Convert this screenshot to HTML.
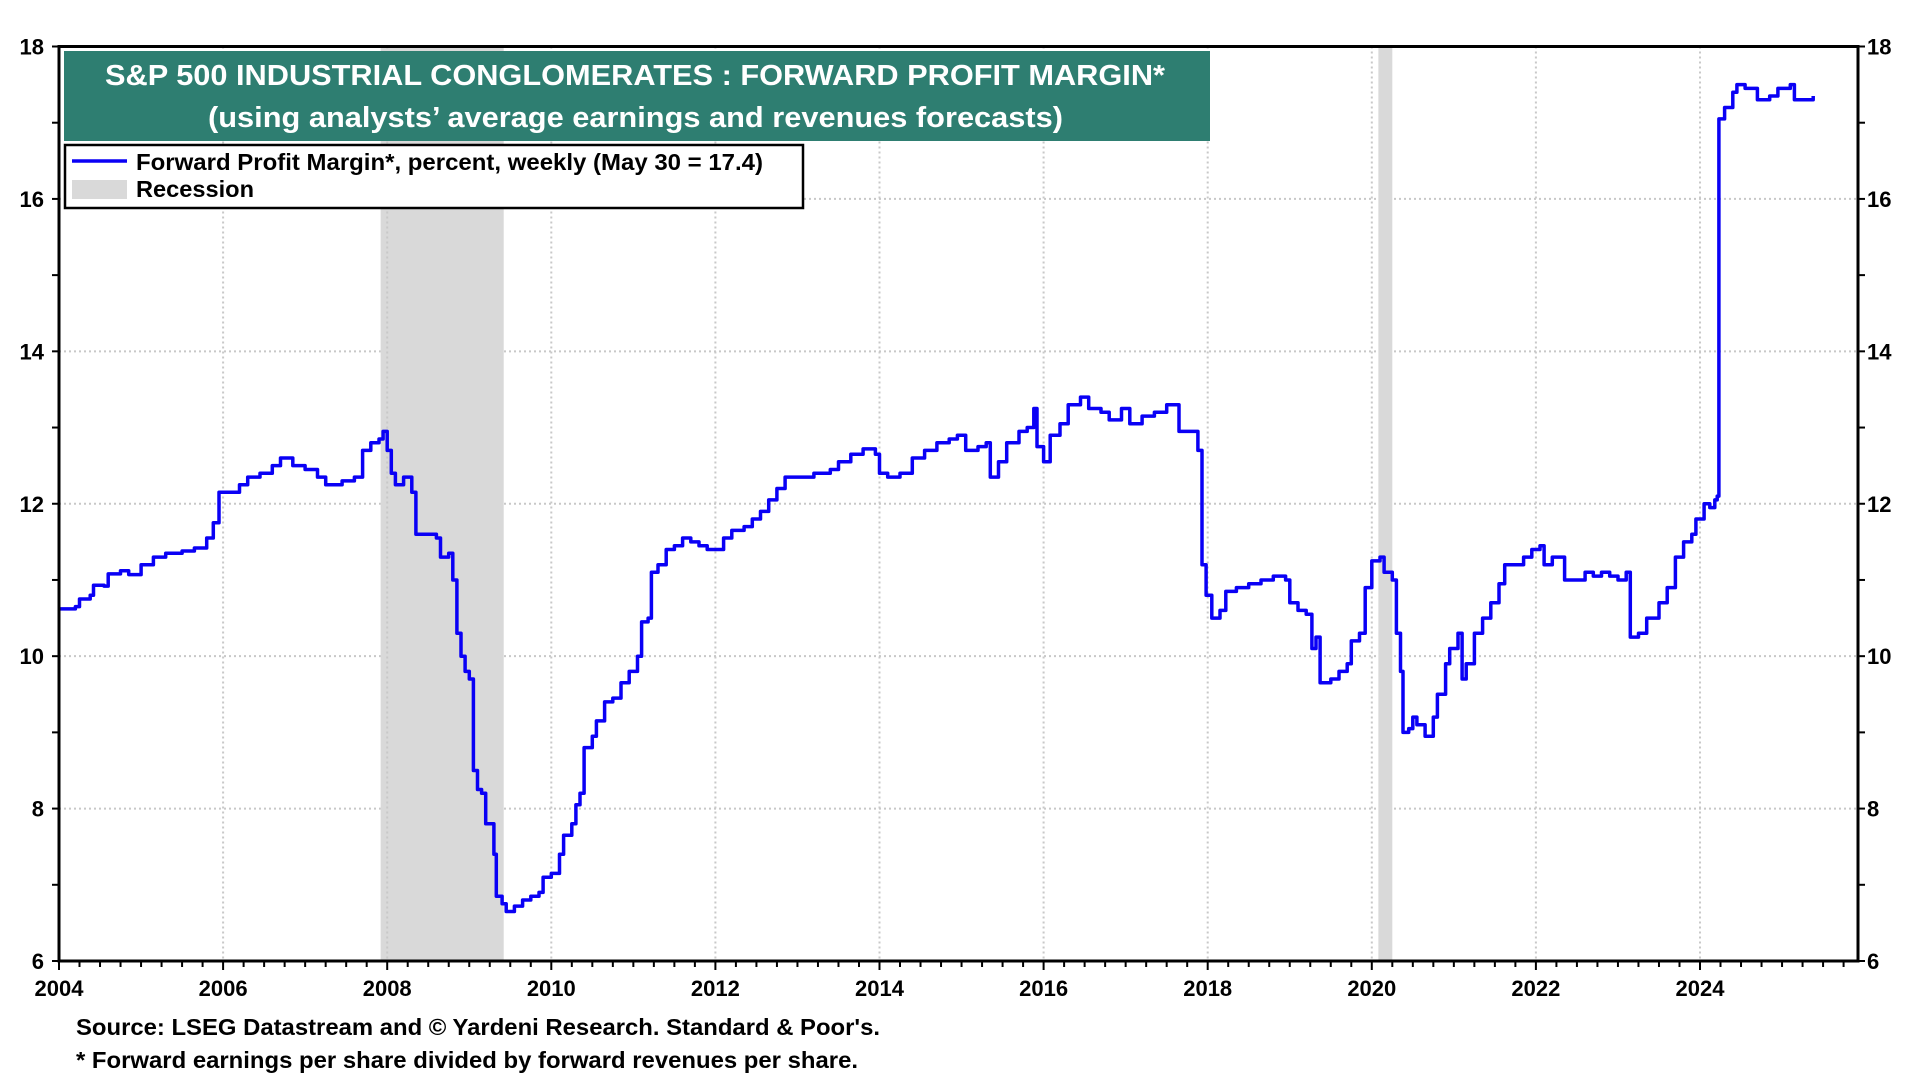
<!DOCTYPE html>
<html><head><meta charset="utf-8"><style>
html,body{margin:0;padding:0;background:#fff;}
svg{display:block;font-family:"Liberation Sans",Arial,sans-serif;font-weight:bold;}
</style></head><body>
<svg id="chart" width="1920" height="1080" viewBox="0 0 1920 1080">
<g id="grid"></g>
<g id="rec"></g>
<g id="gridv"></g>
<path id="line" fill="none" stroke="#0a00f5" stroke-width="3.5" stroke-linejoin="round"/>
<rect x="59" y="46.5" width="1799" height="914.5" fill="none" stroke="#000" stroke-width="3"/>
<g id="axes"></g>
<rect x="64" y="51" width="1146" height="90" fill="#2e7e71"/>
<text x="105" y="85" font-size="29" fill="#fff" textLength="1060" lengthAdjust="spacingAndGlyphs">S&amp;P 500 INDUSTRIAL CONGLOMERATES : FORWARD PROFIT MARGIN*</text>
<text x="208" y="127" font-size="29" fill="#fff" textLength="855" lengthAdjust="spacingAndGlyphs">(using analysts’ average earnings and revenues forecasts)</text>
<g>
<rect x="65" y="145" width="738" height="63" fill="#fff" stroke="#000" stroke-width="2.5"/>
<line x1="72" y1="161" x2="127" y2="161" stroke="#0a00f5" stroke-width="3.5"/>
<text x="136" y="170" font-size="23" textLength="627" lengthAdjust="spacingAndGlyphs">Forward Profit Margin*, percent, weekly (May 30 = 17.4)</text>
<rect x="72" y="180" width="55" height="19" fill="#d9d9d9"/>
<text x="136" y="197" font-size="23" textLength="118" lengthAdjust="spacingAndGlyphs">Recession</text>
</g>
<text x="76" y="1035" font-size="23" textLength="804" lengthAdjust="spacingAndGlyphs">Source: LSEG Datastream and © Yardeni Research. Standard &amp; Poor's.</text>
<text x="76" y="1068" font-size="23" textLength="782" lengthAdjust="spacingAndGlyphs">* Forward earnings per share divided by forward revenues per share.</text>
</svg>
<script>
const yearTicks=[2004,2006,2008,2010,2012,2014,2016,2018,2020,2022,2024];
const valueTicks=[6,8,10,12,14,16,18];
const recessions=[[2007.92,2009.42],[2020.08,2020.25]];
const dates=[2004.00,2004.20,2004.25,2004.38,2004.42,2004.55,2004.6,2004.75,2004.85,2005.0,2005.15,2005.3,2005.5,2005.65,2005.8,2005.88,2005.95,2006.1,2006.2,2006.3,2006.45,2006.6,2006.7,2006.85,2007.0,2007.15,2007.25,2007.45,2007.6,2007.7,2007.8,2007.9,2007.95,2008.0,2008.05,2008.1,2008.2,2008.3,2008.35,2008.5,2008.6,2008.65,2008.75,2008.8,2008.85,2008.9,2008.95,2009.0,2009.05,2009.1,2009.15,2009.2,2009.25,2009.3,2009.33,2009.4,2009.45,2009.55,2009.65,2009.75,2009.85,2009.9,2010.0,2010.1,2010.15,2010.25,2010.3,2010.35,2010.4,2010.5,2010.55,2010.65,2010.75,2010.85,2010.95,2011.05,2011.1,2011.18,2011.22,2011.3,2011.4,2011.5,2011.6,2011.7,2011.8,2011.9,2012.0,2012.1,2012.2,2012.35,2012.45,2012.55,2012.65,2012.75,2012.85,2013.0,2013.2,2013.4,2013.5,2013.65,2013.8,2013.95,2014.0,2014.1,2014.25,2014.4,2014.55,2014.7,2014.85,2014.95,2015.05,2015.2,2015.3,2015.35,2015.45,2015.55,2015.7,2015.8,2015.88,2015.92,2016.0,2016.08,2016.2,2016.3,2016.45,2016.55,2016.7,2016.8,2016.95,2017.05,2017.2,2017.35,2017.5,2017.6,2017.65,2017.8,2017.88,2017.93,2017.98,2018.05,2018.15,2018.22,2018.35,2018.5,2018.65,2018.8,2018.95,2019.0,2019.1,2019.2,2019.27,2019.32,2019.37,2019.5,2019.6,2019.7,2019.75,2019.85,2019.92,2020.0,2020.1,2020.15,2020.25,2020.3,2020.35,2020.38,2020.45,2020.5,2020.55,2020.65,2020.75,2020.8,2020.9,2020.95,2021.05,2021.1,2021.15,2021.25,2021.35,2021.45,2021.55,2021.62,2021.75,2021.85,2021.95,2022.05,2022.1,2022.2,2022.3,2022.35,2022.5,2022.6,2022.7,2022.8,2022.9,2023.0,2023.1,2023.15,2023.25,2023.35,2023.5,2023.6,2023.7,2023.8,2023.9,2023.95,2024.05,2024.12,2024.18,2024.21,2024.23,2024.3,2024.4,2024.45,2024.55,2024.7,2024.85,2024.95,2025.1,2025.15,2025.25,2025.38];
const margins=[10.62,10.65,10.75,10.8,10.93,10.92,11.08,11.12,11.07,11.2,11.3,11.35,11.38,11.42,11.55,11.75,12.15,12.15,12.25,12.35,12.4,12.5,12.6,12.5,12.45,12.35,12.25,12.3,12.35,12.7,12.8,12.85,12.95,12.7,12.4,12.25,12.35,12.15,11.6,11.6,11.55,11.3,11.35,11.0,10.3,10.0,9.8,9.7,8.5,8.25,8.2,7.8,7.8,7.4,6.85,6.75,6.65,6.72,6.8,6.85,6.9,7.1,7.15,7.4,7.65,7.8,8.05,8.2,8.8,8.95,9.15,9.4,9.45,9.65,9.8,10.0,10.45,10.5,11.1,11.2,11.4,11.45,11.55,11.5,11.45,11.4,11.4,11.55,11.65,11.7,11.8,11.9,12.05,12.2,12.35,12.35,12.4,12.45,12.55,12.65,12.72,12.65,12.4,12.35,12.4,12.6,12.7,12.8,12.85,12.9,12.7,12.75,12.8,12.35,12.55,12.8,12.95,13.0,13.25,12.75,12.55,12.9,13.05,13.3,13.4,13.25,13.2,13.1,13.25,13.05,13.15,13.2,13.3,13.3,12.95,12.95,12.7,11.2,10.8,10.5,10.6,10.85,10.9,10.95,11.0,11.05,11.0,10.7,10.6,10.55,10.1,10.25,9.65,9.7,9.8,9.9,10.2,10.3,10.9,11.25,11.3,11.1,11.0,10.3,9.8,9.0,9.05,9.2,9.1,8.95,9.2,9.5,9.9,10.1,10.3,9.7,9.9,10.3,10.5,10.7,10.95,11.2,11.2,11.3,11.4,11.45,11.2,11.3,11.3,11.0,11.0,11.1,11.05,11.1,11.05,11.0,11.1,10.25,10.3,10.5,10.7,10.9,11.3,11.5,11.6,11.8,12.0,11.95,12.05,12.1,17.05,17.2,17.4,17.5,17.45,17.3,17.35,17.45,17.5,17.3,17.3,17.35];
const X0=59,X1=1858,Y0=961,Y1=46.5;
function xs(y){return X0+(y-2004)*82.05;}
function ys(v){return Y0-(v-6)*(Y0-Y1)/12;}
const NS='http://www.w3.org/2000/svg';
function mk(parent,tag,attrs){const e=document.createElementNS(NS,tag);for(const k in attrs)e.setAttribute(k,attrs[k]);document.getElementById(parent).appendChild(e);return e;}
recessions.forEach(r=>{const e=mk('rec','rect',{x:xs(r[0]),y:Y1,width:xs(r[1])-xs(r[0]),height:Y0-Y1,fill:'#d9d9d9'});

});
valueTicks.forEach(v=>{if(v>6&&v<18){const e=mk('grid','line',{x1:X0,x2:X1,y1:ys(v),y2:ys(v),stroke:'#c8c8c8','stroke-width':2,'stroke-dasharray':'2,3'});

}
const l=mk('axes','text',{x:44,y:ys(v)+8,'font-size':22,'text-anchor':'end'});l.textContent=v;


const r=mk('axes','text',{x:1867,y:ys(v)+8,'font-size':22});r.textContent=v;

});
for(let v=6;v<=18;v++){mk('axes','line',{x1:X0-7,x2:X0,y1:ys(v),y2:ys(v),stroke:'#000','stroke-width':2});mk('axes','line',{x1:X1,x2:X1+7,y1:ys(v),y2:ys(v),stroke:'#000','stroke-width':2});}
yearTicks.forEach(y=>{if(y>2004){const e=mk('gridv','line',{x1:xs(y),x2:xs(y),y1:Y1,y2:Y0,stroke:'#c8c8c8','stroke-width':2,'stroke-dasharray':'2,3'});

}
const t=mk('axes','text',{x:xs(y),y:996,'font-size':22,'text-anchor':'middle'});t.textContent=y;

});
for(let q=0;q<=87;q++){const x=xs(2004+q/4);mk('axes','line',{x1:x,x2:x,y1:Y0,y2:Y0+(q%8==0?9:6),stroke:'#000','stroke-width':2});}
let d='';
dates.forEach((dt,i)=>{const x=xs(dt).toFixed(1),y=ys(margins[i]).toFixed(1);
if(i===0)d+='M'+x+','+y;else d+=' H'+x+' V'+y;});
document.getElementById('line').setAttribute('d',d);
</script>
</body></html>
